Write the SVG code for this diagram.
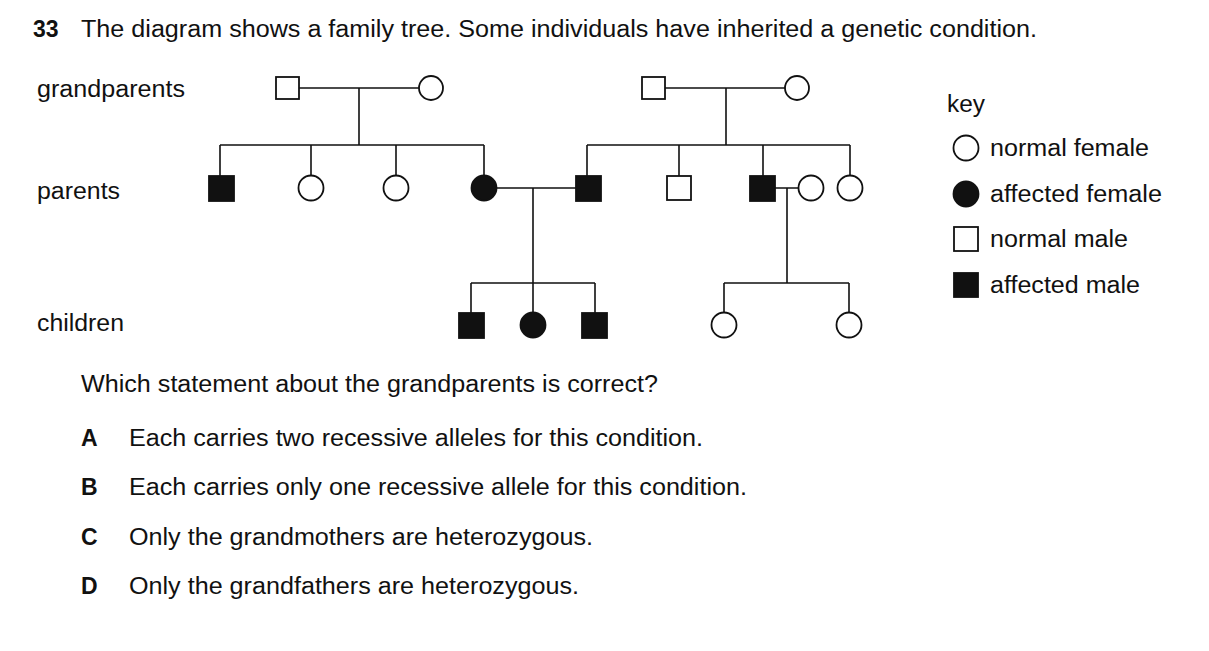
<svg xmlns="http://www.w3.org/2000/svg" width="1209" height="651" viewBox="0 0 1209 651">
<style>
text{font-family:"Liberation Sans",Arial,sans-serif;font-size:23px;fill:#111}
.b{font-weight:bold}
.o{fill:#fff;stroke:#111;stroke-width:1.8}
.f{fill:#111;stroke:#111;stroke-width:1.8}
.l{stroke:#111;stroke-width:1.6;fill:none}
</style>
<rect width="1209" height="651" fill="#fff"/>
<text x="33" y="37" class="b">33</text>
<text x="81" y="37" textLength="956" lengthAdjust="spacingAndGlyphs">The diagram shows a family tree. Some individuals have inherited a genetic condition.</text>
<text x="37" y="97" textLength="148" lengthAdjust="spacingAndGlyphs">grandparents</text>
<text x="37" y="199" textLength="83" lengthAdjust="spacingAndGlyphs">parents</text>
<text x="37" y="331" textLength="87" lengthAdjust="spacingAndGlyphs">children</text>
<g id="connectors">
<path class="l" d="M299 88H419M359 88V145M220 145H484M220 145V176M311 145V176M396 145V176M484 145V176"/>
<path class="l" d="M665 88H785M726 88V145M587 145H850M587 145V176M679 145V176M763 145V176M850 145V176"/>
<path class="l" d="M496 188H576M533 188V283M471 283H595M471 283V313M533 283V313M595 283V313"/>
<path class="l" d="M775 188H799M787 188V283M724 283H849M724 283V313M849 283V313"/>
</g>
<g id="gf1"><rect class="o" x="276" y="77" width="23" height="22"/></g>
<g id="gm1"><circle class="o" cx="431" cy="88" r="12"/></g>
<g id="gf2"><rect class="o" x="642" y="77" width="23" height="22"/></g>
<g id="gm2"><circle class="o" cx="797" cy="88" r="12"/></g>
<g id="p1"><rect class="f" x="209" y="176" width="25" height="25"/></g>
<g id="p2"><circle class="o" cx="311" cy="188" r="12.5"/></g>
<g id="p3"><circle class="o" cx="396" cy="188" r="12.5"/></g>
<g id="p4"><circle class="f" cx="484" cy="188" r="12.5"/></g>
<g id="p5"><rect class="f" x="576" y="176" width="25" height="25"/></g>
<g id="p6"><rect class="o" x="667" y="176" width="24" height="24"/></g>
<g id="p7"><rect class="f" x="750" y="176" width="25" height="25"/></g>
<g id="p8"><circle class="o" cx="811" cy="188" r="12.5"/></g>
<g id="p9"><circle class="o" cx="850" cy="188" r="12.5"/></g>
<g id="c1"><rect class="f" x="459" y="313" width="25" height="25"/></g>
<g id="c2"><circle class="f" cx="533" cy="325" r="12.5"/></g>
<g id="c3"><rect class="f" x="582" y="313" width="25" height="25"/></g>
<g id="c4"><circle class="o" cx="724" cy="325" r="12.5"/></g>
<g id="c5"><circle class="o" cx="849" cy="325" r="12.5"/></g>
<g id="key">
<text x="947" y="112" textLength="38" lengthAdjust="spacingAndGlyphs">key</text>
<circle class="o" cx="966" cy="148" r="12.5"/><text x="990" y="156" textLength="159" lengthAdjust="spacingAndGlyphs">normal female</text>
<circle class="f" cx="966" cy="194" r="12.5"/><text x="990" y="202" textLength="172" lengthAdjust="spacingAndGlyphs">affected female</text>
<rect class="o" x="954" y="227" width="24" height="24"/><text x="990" y="247" textLength="138" lengthAdjust="spacingAndGlyphs">normal male</text>
<rect class="f" x="954" y="273" width="24" height="24"/><text x="990" y="293" textLength="150" lengthAdjust="spacingAndGlyphs">affected male</text>
</g>
<text x="81" y="392" textLength="577" lengthAdjust="spacingAndGlyphs">Which statement about the grandparents is correct?</text>
<text x="81" y="446" class="b">A</text><text x="129" y="446" textLength="574" lengthAdjust="spacingAndGlyphs">Each carries two recessive alleles for this condition.</text>
<text x="81" y="495" class="b">B</text><text x="129" y="495" textLength="618" lengthAdjust="spacingAndGlyphs">Each carries only one recessive allele for this condition.</text>
<text x="81" y="545" class="b">C</text><text x="129" y="545" textLength="464" lengthAdjust="spacingAndGlyphs">Only the grandmothers are heterozygous.</text>
<text x="81" y="594" class="b">D</text><text x="129" y="594" textLength="450" lengthAdjust="spacingAndGlyphs">Only the grandfathers are heterozygous.</text>
</svg>
